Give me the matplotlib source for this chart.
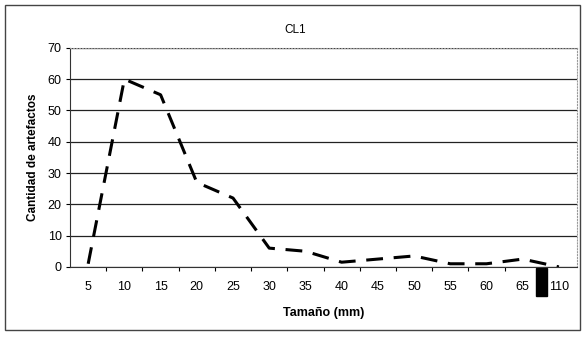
import matplotlib
matplotlib.use('Agg')
import matplotlib.pyplot as plt
import matplotlib.transforms as mtransforms
from matplotlib.patches import Rectangle

plt.rcParams['font.family'] = ['Liberation Sans', 'DejaVu Sans']

# tamaño de los artefactos (categorias) y cantidad
sizes = ['5', '10', '15', '20', '25', '30', '35', '40', '45', '50', '55', '60', '65', '110']
counts = [1, 60, 55, 27, 22, 6, 5, 1.5, 2.5, 3.5, 1, 1, 2.5, 0]
yticks = [0, 10, 20, 30, 40, 50, 60, 70]

fig = plt.figure(figsize=(5.84, 3.37), dpi=100)
fig.patch.set_facecolor('white')
# marco exterior del grafico
fig.patches.append(Rectangle((0.009, 0.02), 0.985, 0.965, transform=fig.transFigure,
                             fill=False, edgecolor='#444444', linewidth=1.0))

ax = fig.add_axes([0.120, 0.208, 0.868, 0.650])
x = list(range(len(sizes)))
ax.plot(x, counts, color='black', linewidth=2.2, linestyle=(0, (5.5, 3.5)))

ax.set_xlim(-0.5, len(sizes) - 0.5)
ax.set_ylim(0, 70)
ax.set_yticks(yticks)
ax.set_yticklabels([str(v) for v in yticks], fontsize=9)
ax.set_xticks(x)
ax.set_xticklabels(sizes, fontsize=9)
ax.tick_params(axis='x', length=0, pad=10)
ax.set_xticks([i + 0.5 for i in x[:-1]], minor=True)
ax.tick_params(axis='x', which='minor', length=3, width=0.8, direction='out')
ax.tick_params(axis='y', length=3, width=0.8, direction='out', pad=3)

ax.grid(axis='y', color='#222222', linewidth=0.9)
ax.set_axisbelow(True)
for side in ['top', 'right']:
    ax.spines[side].set_color('#999999')
    ax.spines[side].set_linestyle(':')
ax.spines['left'].set_color('#333333')
ax.spines['bottom'].set_color('#333333')

fig.text(0.505, 0.91, 'CL1', fontsize=8.5, ha='center', va='center')
ax.set_xlabel('Tamaño (mm)', fontsize=9, fontweight='bold', labelpad=10)
ax.set_ylabel('Cantidad de artefactos', fontsize=8.5, fontweight='bold', labelpad=6)

# mancha negra del escaneo junto al 110
trans = mtransforms.blended_transform_factory(ax.transData, ax.transAxes)
ax.add_patch(Rectangle((12.37, -0.135), 0.3, 0.13, transform=trans,
                       color='black', clip_on=False))

fig.savefig('out.png', dpi=100)
